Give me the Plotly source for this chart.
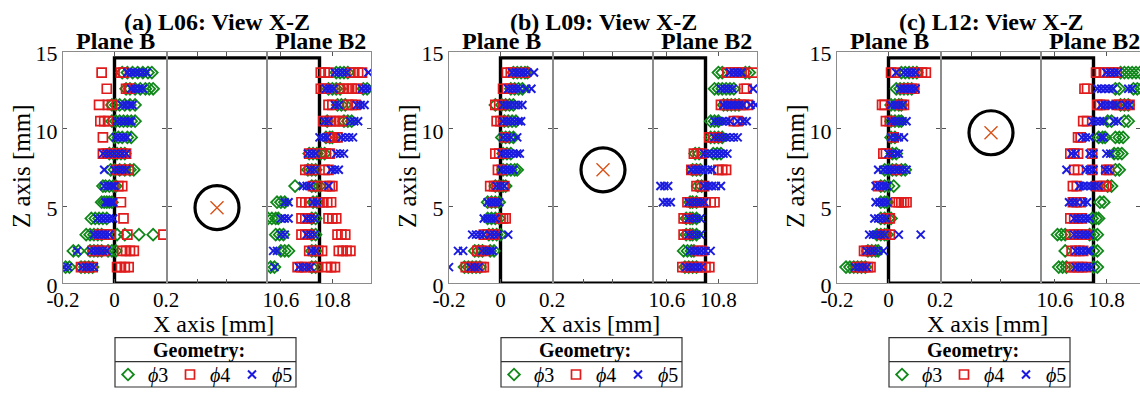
import plotly.graph_objects as go

# ---------------------------------------------------------------------------
# Data (mm)
# ---------------------------------------------------------------------------
Z_ROWS = [1.05, 2.10, 3.15, 4.20, 5.25, 6.30, 7.35, 8.40, 9.45, 10.50, 11.55, 12.60, 13.65]

PANEL_TITLES = ["(a) L06: View X-Z", "(b) L09: View X-Z", "(c) L12: View X-Z"]
HOLE_Z = [4.9, 7.35, 9.75]          # height of the hole centre for each layer
PLATE_WIDTH = 10.75
PLATE_HEIGHT = 14.6
X_TICKS_B = [-0.2, 0, 0.2]
X_TICKS_B2 = [10.6, 10.8]
Z_TICKS = [0, 5, 10, 15]
SERIES_NAMES = ["<i>\u03d5</i>3", "<i>\u03d5</i>4", "<i>\u03d5</i>5"]

# Plane B (x near 0), one list of x-positions per row in Z_ROWS
L06_B_PHI3 = [[-0.19, -0.175, -0.13, -0.115, -0.10, -0.085],
              [-0.16, -0.14, -0.095, -0.08, -0.065, -0.05, -0.025, -0.01, 0.005],
              [-0.11, -0.095, -0.08, -0.065, -0.05, 0.01, 0.04, 0.095, 0.15],
              [-0.09, -0.075, -0.06, -0.045, -0.03],
              [-0.05, -0.04, -0.03, -0.02, -0.01],
              [-0.045, -0.035, -0.02, -0.005, 0.005],
              [-0.015, 0.0, 0.02, 0.04, 0.06, 0.075],
              [-0.02, -0.005, 0.01, 0.025, 0.04],
              [0.0, 0.015, 0.03, 0.05, 0.065],
              [-0.01, 0.005, 0.02, 0.035, 0.05, 0.065, 0.08],
              [-0.01, 0.005, 0.02, 0.04, 0.06, 0.08],
              [0.045, 0.06, 0.08, 0.10, 0.12, 0.135, 0.15],
              [0.03, 0.05, 0.07, 0.09, 0.11, 0.13, 0.145]]
L06_B_PHI4 = [[-0.13, -0.115, -0.10, -0.085, 0.01, 0.025, 0.04, 0.055],
              [-0.085, -0.07, -0.055, -0.04, 0.03, 0.045, 0.06, 0.075],
              [-0.06, -0.045, -0.03, -0.015, 0.05, 0.19],
              [0.035],
              [0.025],
              [0.015, 0.03],
              [0.01, 0.025, 0.04, 0.055],
              [-0.045, -0.03, -0.015, 0.0, 0.015, 0.03, 0.045],
              [-0.045],
              [-0.055, -0.04, -0.025],
              [-0.06, -0.025, -0.01],
              [-0.03, 0.045, 0.055, 0.06],
              [-0.05, 0.025, 0.035]]
L06_B_PHI5 = [[-0.195, -0.18, -0.125, -0.11, -0.095, -0.08],
              [-0.145, -0.09, -0.075, -0.06, -0.045, -0.03],
              [-0.08, -0.065, -0.05, -0.035, -0.02],
              [-0.065, -0.05, -0.035, -0.02, -0.005],
              [-0.035, -0.025, -0.015, -0.005],
              [-0.04, -0.025, -0.01, 0.0],
              [-0.04, 0.0, 0.015, 0.03, 0.045],
              [-0.045, -0.03, -0.015, 0.0, 0.015, 0.03, 0.045],
              [0.005, 0.02, 0.035, 0.05],
              [0.01, 0.025, 0.04, 0.055, 0.065],
              [0.03, 0.045, 0.06, 0.07],
              [0.065, 0.08, 0.095, 0.11],
              [0.05, 0.065, 0.08, 0.095, 0.11, 0.125]]

L09_B_PHI3 = [[-0.14, -0.125, -0.11, -0.095, -0.08],
              [-0.10, -0.085, -0.07, -0.04, -0.025],
              [-0.045, -0.03, -0.015, 0.0],
              [-0.05, -0.035, -0.02, -0.005],
              [-0.05, -0.035, -0.02, -0.005],
              [-0.02, -0.005, 0.01, 0.02],
              [0.01, 0.025, 0.04, 0.055, 0.065],
              [0.01, 0.025, 0.04],
              [0.005, 0.02, 0.035, 0.05],
              [0.015, 0.03, 0.045, 0.06],
              [-0.02, 0.005, 0.02, 0.035, 0.05],
              [0.04, 0.055, 0.07, 0.085],
              [0.05, 0.065, 0.08, 0.095, 0.105]]
L09_B_PHI4 = [[-0.135, -0.12, -0.105, -0.09, -0.075, -0.065],
              [-0.09, -0.075, -0.06],
              [-0.065, -0.05, -0.035, -0.025],
              [0.0, 0.01, 0.02],
              [-0.03],
              [-0.04, -0.025, -0.015, 0.015],
              [-0.01, 0.005],
              [-0.02, -0.005, 0.01],
              [0.015],
              [-0.015, 0.0, 0.01],
              [-0.02, -0.005, 0.01],
              [0.01, 0.025, 0.04],
              [0.025, 0.04, 0.05, 0.095]]
L09_B_PHI5 = [[-0.20, -0.115, -0.10, -0.085],
              [-0.165, -0.145, -0.07, -0.055, -0.04, -0.03],
              [-0.11, -0.095, -0.08, -0.065, -0.04, -0.025, -0.01, 0.03],
              [-0.065, -0.05, -0.035, -0.02],
              [-0.05, -0.035, -0.02, -0.005],
              [-0.015, 0.0, 0.015],
              [0.005, 0.02, 0.035, 0.05],
              [0.005, 0.02, 0.035, 0.05, 0.065, 0.075],
              [0.01, 0.025, 0.04, 0.065],
              [0.01, 0.025, 0.04, 0.055, 0.07, 0.08],
              [0.01, 0.025, 0.04, 0.055, 0.07, 0.085],
              [0.03, 0.045, 0.06, 0.075, 0.10, 0.12],
              [0.045, 0.06, 0.075, 0.09, 0.105, 0.13]]

L12_B_PHI3 = [[-0.165, -0.15, -0.135, -0.12, -0.105, -0.09],
              [-0.08, -0.065, -0.05, -0.04],
              [-0.045, -0.03, -0.015, -0.005],
              [-0.03, -0.015, 0.0, 0.01],
              [-0.03, -0.015, -0.005],
              [-0.03, -0.015, 0.0, 0.02],
              [-0.015, 0.0, 0.015, 0.03, 0.05, 0.065],
              [0.015, 0.03],
              [0.01, 0.025],
              [0.01, 0.025, 0.04, 0.05],
              [0.01, 0.025, 0.04, 0.05],
              [0.03, 0.045, 0.06, 0.075, 0.09],
              [0.05, 0.065, 0.08, 0.095, 0.11]]
L12_B_PHI4 = [[-0.125, -0.11, -0.095, -0.08, -0.07],
              [-0.095, -0.085, -0.07],
              [-0.02, -0.01, 0.005],
              [-0.01, 0.005],
              [0.03, 0.04, 0.05, 0.06, 0.07],
              [-0.04],
              [0.03],
              [-0.02, -0.01],
              [0.02],
              [-0.01, 0.005],
              [-0.025, -0.015, 0.05, 0.06],
              [0.06, 0.075, 0.09, 0.10],
              [0.01, 0.025, 0.10, 0.115, 0.13, 0.145]]
L12_B_PHI5 = [[-0.13, -0.115, -0.10, -0.085],
              [-0.085, -0.07, -0.055, -0.04, -0.02],
              [-0.075, -0.06, -0.045, -0.03, -0.015, 0.04, 0.125],
              [-0.055, -0.04, -0.025, -0.01],
              [-0.05, -0.035, -0.02, -0.005],
              [-0.05, -0.035, -0.02, -0.005],
              [-0.04, -0.02, -0.005, 0.01, 0.025, 0.04, 0.055, 0.07],
              [0.0, 0.015, 0.03, 0.04],
              [0.01, 0.025, 0.04, 0.06],
              [0.01, 0.025, 0.04, 0.055, 0.07],
              [0.01, 0.025, 0.04, 0.055],
              [0.045, 0.06, 0.075, 0.09, 0.105],
              [0.03, 0.06, 0.075, 0.09, 0.105]]

# Plane B2 (x near the far face of the plate)
L06_B2_PHI3 = [[10.56, 10.575, 10.72, 10.735],
               [10.60, 10.615, 10.63, 10.72, 10.735],
               [10.58, 10.595, 10.61, 10.72, 10.735],
               [10.55, 10.565, 10.58, 10.59, 10.72, 10.735],
               [10.585, 10.60, 10.615, 10.725, 10.74],
               [10.655, 10.72, 10.735, 10.75],
               [10.705, 10.72, 10.735],
               [10.71, 10.725, 10.74, 10.755, 10.77],
               [10.775, 10.79, 10.80],
               [10.78, 10.845, 10.86, 10.875],
               [10.82, 10.835, 10.85],
               [10.785, 10.80, 10.815, 10.83, 10.92, 10.935],
               [10.815, 10.83, 10.845, 10.86]]
L06_B2_PHI4 = [[10.665, 10.68, 10.695, 10.725, 10.74, 10.78, 10.795, 10.81],
               [10.71, 10.725, 10.745, 10.76, 10.825, 10.84, 10.855, 10.87],
               [10.68, 10.695, 10.71, 10.82, 10.835, 10.85],
               [10.68, 10.695, 10.71, 10.785, 10.80, 10.815],
               [10.68, 10.695, 10.71, 10.75, 10.765, 10.78, 10.795],
               [10.725, 10.74, 10.775, 10.79, 10.80],
               [10.695, 10.71, 10.725, 10.77, 10.785],
               [10.71, 10.725, 10.76, 10.775, 10.79],
               [10.79, 10.80, 10.81, 10.82],
               [10.765, 10.78, 10.795, 10.81, 10.825, 10.84],
               [10.785, 10.80, 10.86, 10.875, 10.89],
               [10.755, 10.765, 10.775, 10.83, 10.845, 10.86, 10.875, 10.89, 10.90],
               [10.755, 10.77, 10.785, 10.87, 10.885, 10.90, 10.915]]
L06_B2_PHI5 = [[10.575, 10.67, 10.685, 10.70, 10.715],
               [10.57, 10.585, 10.72, 10.735],
               [10.60, 10.615, 10.70, 10.715, 10.73],
               [10.60, 10.615, 10.63, 10.70, 10.715, 10.73],
               [10.615, 10.63, 10.725, 10.74],
               [10.685, 10.70, 10.715, 10.785],
               [10.715, 10.73, 10.795, 10.81, 10.825],
               [10.705, 10.72, 10.735, 10.815, 10.83, 10.845],
               [10.75, 10.765, 10.78, 10.835, 10.85, 10.865, 10.88],
               [10.77, 10.785, 10.87, 10.885, 10.90],
               [10.81, 10.825, 10.895, 10.91, 10.925],
               [10.775, 10.79, 10.805, 10.915, 10.93, 10.945],
               [10.81, 10.825, 10.84, 10.855, 10.94]]

L09_B2_PHI3 = [[10.67, 10.685, 10.70, 10.715],
               [10.665, 10.68, 10.695, 10.705],
               [10.675, 10.69, 10.70, 10.715],
               [10.675, 10.69, 10.70, 10.715],
               [10.69, 10.70, 10.715],
               [10.72, 10.735],
               [10.70, 10.715, 10.73],
               [10.71, 10.725, 10.78, 10.795, 10.81],
               [10.77, 10.785, 10.80, 10.815],
               [10.77, 10.785, 10.80],
               [10.82, 10.835, 10.85, 10.865, 10.88],
               [10.785, 10.80, 10.815, 10.83, 10.845, 10.86],
               [10.80, 10.815, 10.905, 10.92]]
L09_B2_PHI4 = [[10.66, 10.675, 10.69, 10.705, 10.72, 10.735, 10.75, 10.765],
               [10.72, 10.735],
               [10.665, 10.68],
               [10.665, 10.68],
               [10.68, 10.695, 10.71, 10.73, 10.75, 10.77, 10.785],
               [10.715, 10.73, 10.745],
               [10.695, 10.71, 10.80, 10.815, 10.83],
               [10.705, 10.72, 10.735],
               [10.765, 10.78, 10.795],
               [10.86, 10.875],
               [10.81, 10.825, 10.84, 10.855, 10.87, 10.885, 10.90, 10.915],
               [10.90, 10.91],
               [10.835, 10.85, 10.865, 10.88, 10.89, 10.935]]
L09_B2_PHI5 = [[10.675, 10.69, 10.705, 10.72, 10.735],
               [10.69, 10.705, 10.72, 10.735, 10.75, 10.77],
               [10.685, 10.70, 10.715, 10.73],
               [10.685, 10.70, 10.715, 10.73],
               [10.585, 10.60, 10.615, 10.685, 10.70, 10.715, 10.73, 10.745],
               [10.575, 10.59, 10.605, 10.745, 10.76, 10.775, 10.79, 10.81],
               [10.695, 10.71, 10.725, 10.74, 10.76, 10.775],
               [10.745, 10.76, 10.775, 10.79, 10.805, 10.82, 10.835],
               [10.785, 10.80, 10.815, 10.83, 10.845, 10.86, 10.875],
               [10.785, 10.80, 10.815, 10.83, 10.845, 10.875, 10.895, 10.91],
               [10.82, 10.835, 10.85, 10.865, 10.88, 10.895, 10.925, 10.945],
               [10.81, 10.825, 10.84, 10.855, 10.935],
               [10.845, 10.86, 10.875, 10.89]]

L12_B2_PHI3 = [[10.615, 10.63, 10.645, 10.75, 10.765],
               [10.64, 10.75, 10.765],
               [10.61, 10.625, 10.64, 10.735, 10.75, 10.765],
               [10.745, 10.76, 10.77],
               [10.775, 10.79],
               [10.805, 10.82],
               [10.835, 10.85],
               [10.83, 10.845, 10.86],
               [10.77, 10.785, 10.795, 10.835, 10.85, 10.865],
               [10.805, 10.82, 10.87, 10.885],
               [10.855, 10.87, 10.885],
               [10.835, 10.85, 10.905, 10.92, 10.935],
               [10.855, 10.87, 10.885, 10.90, 10.915, 10.93]]
L12_B2_PHI4 = [[10.66, 10.675, 10.69, 10.705, 10.72],
               [10.665, 10.68, 10.695, 10.71],
               [10.66, 10.675, 10.69, 10.705, 10.72],
               [10.66, 10.675, 10.69, 10.705],
               [10.67, 10.685, 10.70],
               [10.67, 10.685, 10.76, 10.775, 10.79, 10.80],
               [10.675, 10.69, 10.745, 10.80, 10.81],
               [10.66, 10.675, 10.69, 10.745],
               [10.69, 10.70],
               [10.71, 10.725],
               [10.765, 10.775, 10.79, 10.84, 10.85, 10.875, 10.89],
               [10.715, 10.725],
               [10.76, 10.775, 10.79, 10.81, 10.825, 10.84]]
L12_B2_PHI5 = [[10.68, 10.695, 10.71, 10.725, 10.74],
               [10.68, 10.695, 10.71, 10.725, 10.735],
               [10.675, 10.69, 10.705, 10.72, 10.735],
               [10.675, 10.69, 10.705, 10.72, 10.735],
               [10.655, 10.67, 10.685, 10.71, 10.725],
               [10.695, 10.71, 10.725, 10.74, 10.755, 10.77],
               [10.645, 10.72, 10.735, 10.75, 10.795, 10.81],
               [10.665, 10.68, 10.735, 10.75, 10.80, 10.815],
               [10.705, 10.72, 10.735, 10.78, 10.79],
               [10.745, 10.76, 10.775, 10.79, 10.83, 10.845],
               [10.78, 10.795, 10.81, 10.825, 10.84, 10.875, 10.89],
               [10.765, 10.78, 10.795, 10.81, 10.825, 10.885, 10.90],
               [10.80, 10.815, 10.83, 10.845]]

PLANE_B = [[L06_B_PHI3, L06_B_PHI4, L06_B_PHI5],
           [L09_B_PHI3, L09_B_PHI4, L09_B_PHI5],
           [L12_B_PHI3, L12_B_PHI4, L12_B_PHI5]]
PLANE_B2 = [[L06_B2_PHI3, L06_B2_PHI4, L06_B2_PHI5],
            [L09_B2_PHI3, L09_B2_PHI4, L09_B2_PHI5],
            [L12_B2_PHI3, L12_B2_PHI4, L12_B2_PHI5]]

# ---------------------------------------------------------------------------
# Styling / layout helpers
# ---------------------------------------------------------------------------
W, H = 1140, 398
FONT = "Liberation Serif, Times New Roman, serif"
GREEN, RED, BLUE, ORANGE = "#11881a", "#e01b1b", "#1a1ae0", "#d95319"
FRAME = "#8c8c8c"

MARKERS = [
    dict(symbol="diamond-open", size=9, color=GREEN, line=dict(width=1.8, color=GREEN)),
    dict(symbol="square-open", size=9, color=RED, line=dict(width=1.7, color=RED)),
    dict(symbol="x-thin-open", size=8, color=BLUE, line=dict(width=2.0, color=BLUE)),
]


def fx(px):
    return px / W


def fy(py):
    return 1 - py / H


PANEL_LEFT = [63, 449, 837]
Z_TOP_PX, Z_BOT_PX = 51.7, 283.3
SECTION_RANGES = [[-0.2, 0.2], [0.0, 1.0], [10.55, 10.95]]


def flatten(rows):
    xs, zs = [], []
    for z, row in zip(Z_ROWS, rows):
        for x in row:
            xs.append(x)
            zs.append(z)
    return xs, zs


fig = go.Figure()
layout = dict(
    width=W, height=H, margin=dict(l=0, r=0, t=0, b=0, autoexpand=False),
    paper_bgcolor="white", plot_bgcolor="white", showlegend=True,
    font=dict(family=FONT, color="black"),
)
annotations = []
shapes = []

for p in range(3):
    x0 = PANEL_LEFT[p]
    spans = [(x0, x0 + 103), (x0 + 105, x0 + 203), (x0 + 205, x0 + 308)]
    legend_key = "legend" if p == 0 else f"legend{p + 1}"
    for s in range(3):
        idx = p * 3 + s + 1
        xname = "x" if idx == 1 else f"x{idx}"
        yname = "y" if idx == 1 else f"y{idx}"
        left, right = spans[s]
        rng = list(SECTION_RANGES[s])
        if right > W:
            rng[1] = rng[0] + (rng[1] - rng[0]) * (W - left) / (right - left)
            right = W
        xa = dict(
            domain=[fx(left), fx(right)], range=rng, anchor=yname, automargin=False,
            showline=True, linecolor=FRAME, linewidth=1, mirror="ticks",
            ticks="inside", ticklen=4, tickcolor="#555555", tickwidth=1,
            showgrid=False, zeroline=False, fixedrange=True, ticklabelstandoff=-3,
            tickfont=dict(family=FONT, size=21, color="black"),
        )
        if s == 0:
            xa.update(tickvals=X_TICKS_B, ticktext=["-0.2", "0", "0.2"])
        elif s == 1:
            xa.update(tickvals=[0.3, 0.6], showticklabels=False)
        else:
            xa.update(tickvals=X_TICKS_B2, ticktext=["10.6", "10.8"])
        ya = dict(
            domain=[fy(Z_BOT_PX), fy(Z_TOP_PX)], range=[0, 15], anchor=xname, automargin=False,
            showline=True, linecolor=FRAME, linewidth=1, mirror="ticks",
            ticks="inside", ticklen=4, tickcolor="#555555", tickwidth=1,
            showgrid=False, zeroline=False, fixedrange=True,
            tickvals=Z_TICKS, showticklabels=(s == 0), ticklabelshift=2,
            tickfont=dict(family=FONT, size=22, color="black"),
        )
        layout["xaxis" if idx == 1 else f"xaxis{idx}"] = xa
        layout["yaxis" if idx == 1 else f"yaxis{idx}"] = ya

        # plate outline (clipped by each section)
        if s == 0:
            ox, oz = [0.5, 0, 0, 0.5], [0, 0, PLATE_HEIGHT, PLATE_HEIGHT]
        elif s == 1:
            ox, oz = [-1, 2, None, -1, 2], [0, 0, None, PLATE_HEIGHT, PLATE_HEIGHT]
        else:
            ox, oz = [10.3, PLATE_WIDTH, PLATE_WIDTH, 10.3], [0, 0, PLATE_HEIGHT, PLATE_HEIGHT]
        fig.add_trace(go.Scatter(x=ox, y=oz, mode="lines", xaxis=xname, yaxis=yname,
                                 line=dict(color="black", width=3.4), showlegend=False,
                                 hoverinfo="skip"))

        if s == 1:
            mid = 0.5 * (SECTION_RANGES[1][0] + SECTION_RANGES[1][1])
            fig.add_trace(go.Scatter(x=[mid], y=[HOLE_Z[p]], mode="markers", xaxis=xname,
                                     yaxis=yname, showlegend=False, cliponaxis=False,
                                     marker=dict(symbol="circle-open", size=44, color="black",
                                                 line=dict(width=3.2, color="black"))))
            fig.add_trace(go.Scatter(x=[mid], y=[HOLE_Z[p]], mode="markers", xaxis=xname,
                                     yaxis=yname, showlegend=False,
                                     marker=dict(symbol="x-thin-open", size=13, color=ORANGE,
                                                 line=dict(width=1.4, color=ORANGE))))
        else:
            planes = PLANE_B if s == 0 else PLANE_B2
            for k in range(3):
                xs, zs = flatten(planes[p][k])
                fig.add_trace(go.Scatter(
                    x=xs, y=zs, mode="markers", xaxis=xname, yaxis=yname,
                    name=SERIES_NAMES[k], legend=legend_key,
                    showlegend=(s == 0), cliponaxis=True, marker=MARKERS[k]))

    # text
    annotations.append(dict(text="<b>%s</b>" % PANEL_TITLES[p], x=fx(x0 + 154), y=fy(22),
                            xref="paper", yref="paper", showarrow=False,
                            font=dict(family=FONT, size=24), xanchor="center", yanchor="middle"))
    annotations.append(dict(text="<b>Plane B</b>", x=fx(x0 + 52), y=fy(41),
                            xref="paper", yref="paper", showarrow=False,
                            font=dict(family=FONT, size=24), xanchor="center", yanchor="middle"))
    annotations.append(dict(text="<b>Plane B2</b>", x=fx(x0 + 257), y=fy(41),
                            xref="paper", yref="paper", showarrow=False,
                            font=dict(family=FONT, size=24), xanchor="center", yanchor="middle"))
    annotations.append(dict(text="Z axis [mm]", x=fx(x0 - 41), y=fy(166), textangle=-90,
                            xref="paper", yref="paper", showarrow=False,
                            font=dict(family=FONT, size=25), xanchor="center", yanchor="middle"))
    annotations.append(dict(text="X axis [mm]", x=fx(x0 + 150), y=fy(324),
                            xref="paper", yref="paper", showarrow=False,
                            font=dict(family=FONT, size=24), xanchor="center", yanchor="middle"))

    # legend box
    bl = x0 + 52
    shapes.append(dict(type="rect", xref="paper", yref="paper", x0=fx(bl), x1=fx(bl + 181),
                       y0=fy(387), y1=fy(337.7), line=dict(color="#333333", width=1.2)))
    shapes.append(dict(type="line", xref="paper", yref="paper", x0=fx(bl), x1=fx(bl + 181),
                       y0=fy(361.7), y1=fy(361.7), line=dict(color="#333333", width=1.2)))
    annotations.append(dict(text="<b>Geometry:</b>", x=fx(bl + 84), y=fy(350),
                            xref="paper", yref="paper", showarrow=False,
                            font=dict(family=FONT, size=20), xanchor="center", yanchor="middle"))
    layout[legend_key] = dict(
        orientation="h", x=fx(bl - 7), xanchor="left", y=fy(374.5), yanchor="middle",
        bgcolor="rgba(0,0,0,0)", borderwidth=0, itemwidth=30, entrywidth=17,
        font=dict(family=FONT, size=20, color="black"), itemclick=False, itemdoubleclick=False,
    )

layout["annotations"] = annotations
layout["shapes"] = shapes
fig.update_layout(**layout)
fig.write_html("out.html")
